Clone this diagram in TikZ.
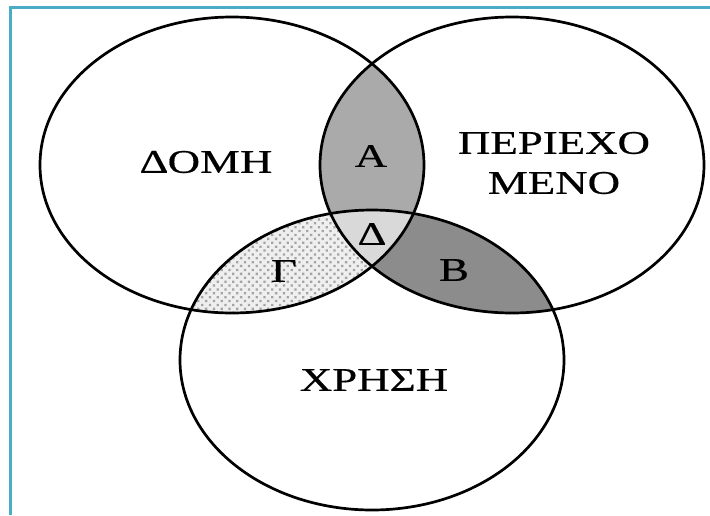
\documentclass[tikz,border=0pt]{standalone}
\usepackage{fontspec}
\setmainfont{Liberation Serif}
\newfontfamily\lblfamily[FakeBold=0.4]{Liberation Serif}
\usepackage{graphicx}
\usetikzlibrary{patterns.meta}
\definecolor{frameblue}{HTML}{4BACC6}
\definecolor{fillA}{HTML}{AAAAAA}
\definecolor{fillB}{HTML}{8C8C8C}
\definecolor{fillD}{HTML}{D9D9D9}
\definecolor{fillG}{HTML}{EFEFEF}
\definecolor{dotG}{HTML}{A4A4A4}
\begin{document}
\begin{tikzpicture}[x=1pt,y=-1pt,
  lbl/.style={font=\lblfamily\fontsize{33}{40}\selectfont, inner sep=0pt, align=center},
  setline/.style={line width=2.7pt, black},
  framebar/.style={line width=3pt, frameblue}]
\useasboundingbox (0,0) rectangle (710,515);
\fill[white] (0,0) rectangle (710,515);
\coordinate (Lc) at (232,165);
\coordinate (Rc) at (512,165);
\coordinate (Bc) at (372,360);
% region A (left & right)
\begin{scope}
  \clip (Lc) ellipse [x radius=192pt, y radius=148pt];
  \clip (Rc) ellipse [x radius=192pt, y radius=148pt];
  \fill[fillA] (0,0) rectangle (710,515);
\end{scope}
% region B (right & bottom)
\begin{scope}
  \clip (Rc) ellipse [x radius=192pt, y radius=148pt];
  \clip (Bc) ellipse [x radius=192pt, y radius=150pt];
  \fill[fillB] (0,0) rectangle (710,515);
\end{scope}
% region Gamma (left & bottom)
\begin{scope}
  \clip (Lc) ellipse [x radius=192pt, y radius=148pt];
  \clip (Bc) ellipse [x radius=192pt, y radius=150pt];
  \fill[fillG] (0,0) rectangle (710,515);
  \fill[pattern={Dots[radius=1.6pt, distance=5.5pt, angle=45]}, pattern color=dotG] (0,0) rectangle (710,515);
\end{scope}
% region Delta (all three)
\begin{scope}
  \clip (Lc) ellipse [x radius=192pt, y radius=148pt];
  \clip (Rc) ellipse [x radius=192pt, y radius=148pt];
  \clip (Bc) ellipse [x radius=192pt, y radius=150pt];
  \fill[fillD] (0,0) rectangle (710,515);
\end{scope}
% outlines
\draw[setline] (Lc) ellipse [x radius=192pt, y radius=148pt];
\draw[setline] (Rc) ellipse [x radius=192pt, y radius=148pt];
\draw[setline] (Bc) ellipse [x radius=192pt, y radius=150pt];
% frame
\coordinate (f0) at (10,515);
\coordinate (f1) at (10,7);
\coordinate (f2) at (710,7);
\draw[framebar] (f0) -- (f1) -- (f2);
% labels
\node[lbl] (domi) at (206,162) {\scalebox{1.36}[1]{ΔΟΜΗ}};
\node[lbl] (periex) at (554,163) {\scalebox{1.36}[1]{ΠΕΡΙΕΧΟ}\\\scalebox{1.36}[1]{ΜΕΝΟ}};
\node[lbl] (xrisi) at (374,380) {\scalebox{1.36}[1]{ΧΡΗΣΗ}};
\node[lbl] (a) at (371,156) {\scalebox{1.36}[1]{Α}};
\node[lbl] (d) at (372,234) {\scalebox{1.36}[1]{Δ}};
\node[lbl] (g) at (284,271) {\scalebox{1.36}[1]{Γ}};
\node[lbl] (b) at (454,270) {\scalebox{1.36}[1]{Β}};
\end{tikzpicture}
\end{document}
